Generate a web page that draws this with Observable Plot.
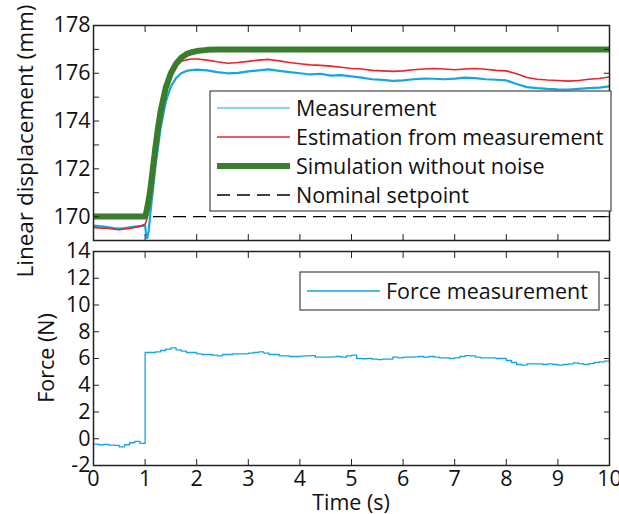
<!DOCTYPE html>
<html><head><meta charset="utf-8">
<script src="https://cdn.jsdelivr.net/npm/d3@7"></script>
<script src="https://cdn.jsdelivr.net/npm/@observablehq/plot@0.6"></script>
<style>
body{margin:0;background:#fff;}
#chart{position:relative;width:619px;height:514px;font-family:"Open Sans",sans-serif;}
svg{display:block;overflow:visible;}
</style>
</head><body><div id="chart"></div>
<script>
// ---- data: top panel (linear displacement, mm) ----
const tTop = [0,0.1,0.2,0.3,0.4,0.5,0.6,0.7,0.8,0.9,1.0,
  1.02,1.04,1.07,1.1,1.15,1.2,1.25,1.3,1.4,1.5,1.6,1.7,1.8,1.9,
  2.0,2.2,2.4,2.6,2.8,3.0,3.2,3.4,3.6,3.8,4.0,4.2,4.4,4.6,4.8,5.0,5.2,5.4,5.6,5.8,
  6.0,6.2,6.4,6.6,6.8,7.0,7.2,7.4,7.6,7.8,8.0,8.2,8.4,8.6,8.8,9.0,9.2,9.4,9.6,9.8,10.0];
const measurement = [169.62,169.6,169.58,169.55,169.52,169.5,169.52,169.55,169.58,169.6,169.62,
  169.25,169.1,169.4,170.1,171.1,172.1,172.9,173.7,174.8,175.45,175.8,176.0,176.1,176.13,
  176.15,176.12,176.05,176.0,176.02,176.08,176.12,176.16,176.1,176.05,176.0,175.95,175.98,175.9,175.92,175.87,175.82,175.75,175.72,175.68,
  175.7,175.75,175.78,175.77,175.75,175.78,175.82,175.8,175.75,175.73,175.7,175.55,175.42,175.38,175.35,175.33,175.32,175.35,175.38,175.4,175.45];
const estimation = [169.55,169.53,169.52,169.5,169.47,169.45,169.48,169.5,169.55,169.6,169.68,
  169.8,169.95,170.3,170.9,171.8,172.7,173.5,174.2,175.2,175.9,176.3,176.5,176.56,176.6,
  176.6,176.55,176.48,176.42,176.45,176.5,176.55,176.58,176.52,176.45,176.4,176.35,176.33,176.3,176.25,176.2,176.18,176.12,176.1,176.08,
  176.1,176.15,176.18,176.2,176.18,176.15,176.18,176.2,176.17,176.12,176.1,175.98,175.82,175.75,175.72,175.7,175.67,175.7,175.75,175.78,175.85];
const simulation = [170,170,170,170,170,170,170,170,170,170,170,
  170.15,170.35,170.7,171.1,172.0,172.9,173.7,174.4,175.4,176.0,176.4,176.65,176.8,176.88,
  176.93,176.98,177,177,177,177,177,177,177,177,177,177,177,177,177,177,177,177,177,177,
  177,177,177,177,177,177,177,177,177,177,177,177,177,177,177,177,177,177,177,177,177];
const setpoint = 170;

// ---- data: bottom panel (force, N) ----
const tForce = [0,0.1,0.2,0.3,0.4,0.5,0.6,0.7,0.8,0.9,1.0,1.1,1.2,1.3,1.4,1.5,1.6,1.7,1.8,1.9,
  2.0,2.1,2.2,2.3,2.4,2.5,2.6,2.7,2.8,2.9,3.0,3.1,3.2,3.3,3.4,3.5,3.6,3.7,3.8,3.9,
  4.0,4.1,4.2,4.3,4.4,4.5,4.6,4.7,4.8,4.9,5.0,5.1,5.2,5.3,5.4,5.5,5.6,5.7,5.8,5.9,
  6.0,6.1,6.2,6.3,6.4,6.5,6.6,6.7,6.8,6.9,7.0,7.1,7.2,7.3,7.4,7.5,7.6,7.7,7.8,7.9,
  8.0,8.1,8.2,8.3,8.4,8.5,8.6,8.7,8.8,8.9,9.0,9.1,9.2,9.3,9.4,9.5,9.6,9.7,9.8,9.9,10.0];
const force = [-0.4,-0.45,-0.42,-0.48,-0.5,-0.6,-0.45,-0.3,-0.2,-0.35,6.45,6.45,6.5,6.6,6.7,6.8,6.65,6.55,6.45,6.45,
  6.35,6.3,6.3,6.25,6.2,6.3,6.3,6.35,6.35,6.35,6.4,6.45,6.5,6.4,6.3,6.3,6.2,6.2,6.15,6.15,
  6.18,6.2,6.22,6.1,6.1,6.1,6.12,6.15,6.1,6.2,6.25,6.0,5.98,6.0,5.95,5.92,5.95,5.95,6.1,6.05,
  6.1,6.1,6.12,6.15,6.1,6.15,6.1,6.05,6.05,6.0,6.05,6.15,6.22,6.2,6.1,6.05,6.05,6.05,6.0,6.0,
  5.85,5.7,5.55,5.5,5.6,5.6,5.6,5.55,5.6,5.55,5.5,5.55,5.6,5.68,5.62,5.55,5.62,5.7,5.75,5.8,5.95];

// ---- ticks & labels ----
const xTicks = [0,1,2,3,4,5,6,7,8,9,10];
const yTopLabels = [170,172,174,176,178];
const yTopTicks = [169,170,171,172,173,174,175,176,177,178];
const yForceTicks = [-2,0,2,4,6,8,10,12,14];
const topYLabel = "Linear displacement (mm)";
const botYLabel = "Force (N)";
const xLabel = "Time (s)";
const topLegend = ["Measurement","Estimation from measurement","Simulation without noise","Nominal setpoint"];
const bottomLegend = ["Force measurement"];

const C_BLUE = "#14a5e3", C_RED = "#e8242b", C_GREEN = "#3a7d2c";
const FONT = "Open Sans";
const FS = 21.5;

const topData = tTop.map((t,i)=>({t, m: measurement[i], e: estimation[i], s: simulation[i]}));
const forceData = tForce.map((t,i)=>({t, f: force[i]}));

const baseStyle = {fontFamily: FONT, fontSize: FS+"px", color:"#111", background:"transparent", overflow:"visible"};
const blank = () => "";
const fmt = d => String(d);
const tickY = (ticks, anchor) => Plot.axisY(ticks, {anchor, tickSize:6, dx: anchor === "left" ? 6 : -6, tickFormat: blank, label: null, stroke:"#222"});
const tickX = (ticks, anchor) => Plot.axisX(ticks, {anchor, tickSize:6, dy: anchor === "top" ? 6 : -6, tickFormat: blank, label: null, stroke:"#222"});

const topPlot = Plot.plot({
  width: 619, height: 245,
  marginLeft: 93, marginRight: 10, marginTop: 25, marginBottom: 5,
  style: baseStyle,
  x: {domain: [0,10]},
  y: {domain: [169,178]},
  marks: [
    Plot.ruleY([setpoint], {stroke:"#000", strokeWidth:1.3, strokeDasharray:"13,7"}),
    Plot.line(topData, {x:"t", y:"m", stroke:C_BLUE, strokeWidth:2.2, clip:true}),
    Plot.line(topData, {x:"t", y:"e", stroke:C_RED, strokeWidth:1.6, clip:true}),
    Plot.line(topData, {x:"t", y:"s", stroke:C_GREEN, strokeWidth:6, clip:true}),
    Plot.axisY(yTopLabels, {anchor:"left", tickSize:0, tickPadding:3, tickFormat: fmt, label:null}),
    tickY(yTopTicks, "left"), tickY(yTopTicks, "right"),
    tickX(xTicks, "top"), tickX(xTicks, "bottom"),
    Plot.frame({stroke:"#222", strokeWidth:1.5})
  ]
});

const botPlot = Plot.plot({
  width: 619, height: 269,
  marginLeft: 93, marginRight: 10, marginTop: 6, marginBottom: 49,
  style: baseStyle,
  x: {domain: [0,10]},
  y: {domain: [-2,14]},
  marks: [
    Plot.line(forceData, {x:"t", y:"f", stroke:C_BLUE, strokeWidth:1.3, curve:"step-after", clip:true}),
    Plot.axisY(yForceTicks, {anchor:"left", tickSize:0, tickPadding:3, tickFormat: fmt, label:null}),
    Plot.axisX(xTicks, {anchor:"bottom", tickSize:0, tickPadding:5, tickFormat: fmt, label:null}),
    tickY(yForceTicks, "left"), tickY(yForceTicks, "right"),
    tickX(xTicks, "top"), tickX(xTicks, "bottom"),
    Plot.frame({stroke:"#222", strokeWidth:1.5})
  ]
});

// ---- axis titles ----
function addTitle(svg, x, y, text, rotate, size) {
  d3.select(svg).append("text")
    .attr("transform", `translate(${x},${y})` + (rotate ? " rotate(-90)" : ""))
    .attr("text-anchor", "middle").attr("dominant-baseline", "central")
    .attr("font-family", FONT).attr("font-size", size).attr("fill", "#111").text(text);
}
addTitle(topPlot, 24, 141, topYLabel, true, 22.5);
addTitle(botPlot, 45, 113, botYLabel, true, FS);
addTitle(botPlot, 351, 256, xLabel, false, FS);

// ---- legends ----
function addLegend(svg, box, items) {
  const g = d3.select(svg).append("g").attr("font-family", FONT).attr("font-size", FS).attr("text-anchor", "start");
  g.append("rect").attr("x", box.x).attr("y", box.y).attr("width", box.w).attr("height", box.h)
    .attr("fill", "#fff").attr("stroke", "#444").attr("stroke-width", 1.2);
  items.forEach((it, i) => {
    const y = box.y + box.first + i * box.step;
    g.append("line").attr("x1", box.x + 7).attr("x2", box.x + 80).attr("y1", y).attr("y2", y)
      .attr("stroke", it.color).attr("stroke-width", it.width).attr("stroke-dasharray", it.dash || null);
    g.append("text").attr("x", box.x + 86).attr("y", y).attr("dy", "0.35em").attr("fill", "#111").text(it.label);
  });
}
addLegend(topPlot, {x:210, y:91, w:401, h:120, first:17, step:29}, [
  {label: topLegend[0], color: C_BLUE, width: 1.2},
  {label: topLegend[1], color: C_RED, width: 1.6},
  {label: topLegend[2], color: C_GREEN, width: 6},
  {label: topLegend[3], color: "#000", width: 1.3, dash: "13,7"}
]);
addLegend(botPlot, {x:300, y:27, w:299, h:38, first:19, step:0}, [
  {label: bottomLegend[0], color: C_BLUE, width: 1.3}
]);

const chart = document.getElementById("chart");
topPlot.style.position = "absolute"; topPlot.style.left = "0px"; topPlot.style.top = "0px";
botPlot.style.position = "absolute"; botPlot.style.left = "0px"; botPlot.style.top = "245px";
chart.appendChild(topPlot);
chart.appendChild(botPlot);
</script></body></html>
